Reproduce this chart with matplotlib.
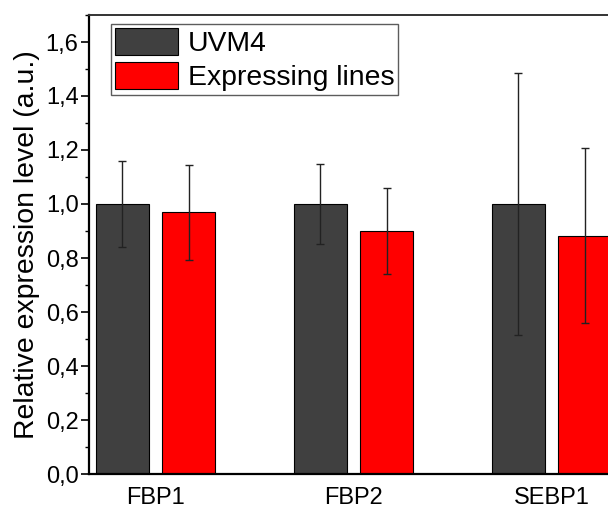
import numpy as np
import matplotlib
matplotlib.use("Agg")
import matplotlib.pyplot as plt
from matplotlib.ticker import MultipleLocator, FuncFormatter

# ─── Data ────────────────────────────────────────────────────────────────────
genes = ["FBP1", "FBP2", "SEBP1"]
uvm4_mean = [1.00, 1.00, 1.00]
uvm4_err = [0.161, 0.149, 0.486]
expr_mean = [0.970, 0.900, 0.883]
expr_err = [0.176, 0.159, 0.323]

DARK = "#404040"
RED = "#FF0000"

plt.rcParams.update({
    "font.family": ["Liberation Sans", "DejaVu Sans"],
    "font.size": 12,
})

fig = plt.figure(figsize=(6.08, 5.08), dpi=100)
# right edge of the axes runs off the figure (cropped like the original)
ax = fig.add_axes([89 / 608, 34 / 508, 529 / 608, 459 / 508])

x = np.arange(len(genes))
w = 0.268
off = 0.167

ax.bar(x - off, uvm4_mean, w, color=DARK, edgecolor="black", linewidth=0.8,
       label="UVM4", zorder=2)
ax.bar(x + off, expr_mean, w, color=RED, edgecolor="black", linewidth=0.8,
       label="Expressing lines", zorder=2)
ax.errorbar(x - off, uvm4_mean, yerr=uvm4_err, fmt="none", ecolor="#222222",
            elinewidth=1.0, capsize=2.9, capthick=1.0, zorder=3)
ax.errorbar(x + off, expr_mean, yerr=expr_err, fmt="none", ecolor="#222222",
            elinewidth=1.0, capsize=2.9, capthick=1.0, zorder=3)

ax.set_xlim(-0.336, 2.336)
ax.set_ylim(0, 1.70)
ax.set_xticks(x)
ax.set_xticklabels(genes, fontsize=17)
ax.tick_params(axis="x", length=0, pad=9)

ax.yaxis.set_major_locator(MultipleLocator(0.2))
ax.yaxis.set_minor_locator(MultipleLocator(0.1))
ax.yaxis.set_major_formatter(FuncFormatter(lambda v, p: f"{v:.1f}".replace(".", ",")))
ax.tick_params(axis="y", which="major", direction="out", length=5.5, width=1.2,
               labelsize=17, pad=2)
ax.tick_params(axis="y", which="minor", direction="out", length=3, width=1.0)

ax.set_ylabel("Relative expression level (a.u.)", fontsize=20.4, labelpad=4)

for s in ["left", "bottom"]:
    ax.spines[s].set_linewidth(1.6)
ax.spines["top"].set_linewidth(1.4)
ax.spines["top"].set_color("#333333")
ax.spines["right"].set_visible(False)

leg = ax.legend(loc="upper left", bbox_to_anchor=(22 / 529, 1 - 9 / 459),
                fontsize=20.4, frameon=True, fancybox=False, edgecolor="#333333",
                handlelength=2.2, handleheight=1.1, handletextpad=0.35,
                borderpad=0.15, labelspacing=0.15, borderaxespad=0.0)
leg.get_frame().set_linewidth(1.0)

fig.savefig("out.png", dpi=100)
